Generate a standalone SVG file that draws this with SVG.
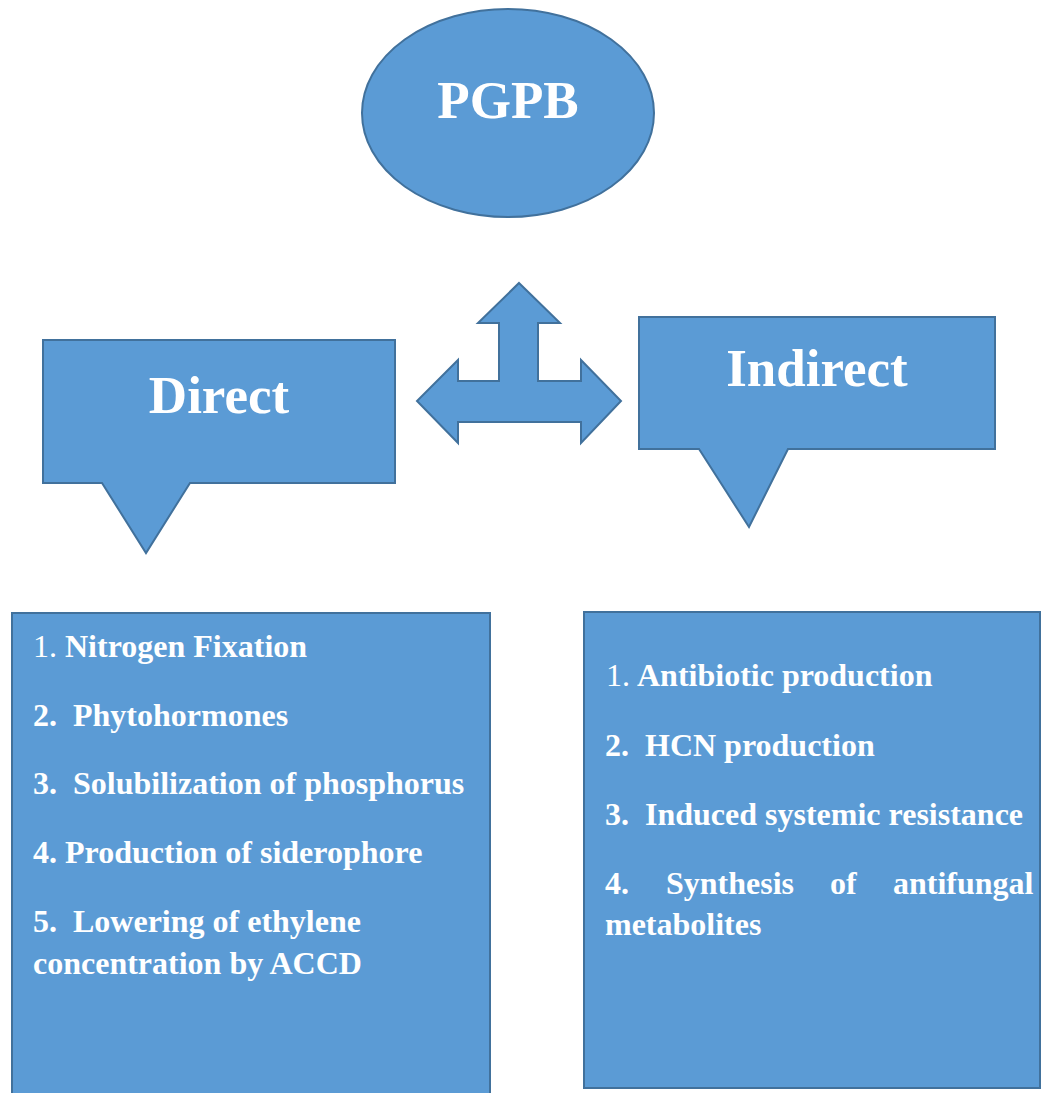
<svg xmlns="http://www.w3.org/2000/svg" width="1041" height="1093" viewBox="0 0 1041 1093">
<style>
.shape{fill:#5B9BD5;stroke:#41719C;stroke-width:2;stroke-linejoin:miter}
.title{font-family:"Liberation Serif","Times New Roman",serif;font-weight:bold;fill:#fff;font-size:53px;text-anchor:middle}
.item{font-family:"Liberation Serif","Times New Roman",serif;font-weight:bold;fill:#fff;font-size:32px}
.num{font-weight:normal}
</style>
<rect width="1041" height="1093" fill="#fff"/>
<g id="pgpb">
<ellipse class="shape" cx="508" cy="113" rx="146" ry="104"/>
<text class="title" x="508" y="118">PGPB</text>
</g>
<g id="connectors">
<path class="shape" d="M519,283 L560,323 L538,323 L538,381 L581,381 L581,360 L621,401 L581,443 L581,422 L458,422 L458,443 L417,401 L458,360 L458,381 L499,381 L499,323 L478,323 Z"/>
</g>
<g id="direct">
<path class="shape" d="M43,340 L395,340 L395,483 L190,483 L146,553 L102,483 L43,483 Z"/>
<text class="title" x="219" y="413">Direct</text>
</g>
<g id="indirect">
<path class="shape" d="M639,317 L995,317 L995,449 L788,449 L749,527 L699,449 L639,449 Z"/>
<text class="title" x="817" y="386">Indirect</text>
</g>
<g id="direct-list">
<rect class="shape" x="12" y="613" width="478" height="490"/>
<text class="item" y="657"><tspan class="num" x="33">1.</tspan><tspan x="65">Nitrogen Fixation</tspan></text>
<text class="item" y="726"><tspan x="33">2.</tspan><tspan x="73">Phytohormones</tspan></text>
<text class="item" y="794"><tspan x="33">3.</tspan><tspan x="73">Solubilization of phosphorus</tspan></text>
<text class="item" y="863"><tspan x="33">4.</tspan><tspan x="65">Production of siderophore</tspan></text>
<text class="item" y="932"><tspan x="33">5.</tspan><tspan x="73">Lowering of ethylene</tspan></text>
<text class="item" y="974"><tspan x="33">concentration by ACCD</tspan></text>
</g>
<g id="indirect-list">
<rect class="shape" x="584" y="612" width="456" height="476"/>
<text class="item" y="686"><tspan class="num" x="606">1.</tspan><tspan x="637">Antibiotic production</tspan></text>
<text class="item" y="756"><tspan x="605">2.</tspan><tspan x="645">HCN production</tspan></text>
<text class="item" y="825"><tspan x="605">3.</tspan><tspan x="645">Induced systemic resistance</tspan></text>
<text class="item" y="894"><tspan x="605">4.</tspan><tspan x="666">Synthesis</tspan><tspan x="830">of</tspan><tspan x="893">antifungal</tspan></text>
<text class="item" y="935"><tspan x="605">metabolites</tspan></text>
</g>
</svg>
